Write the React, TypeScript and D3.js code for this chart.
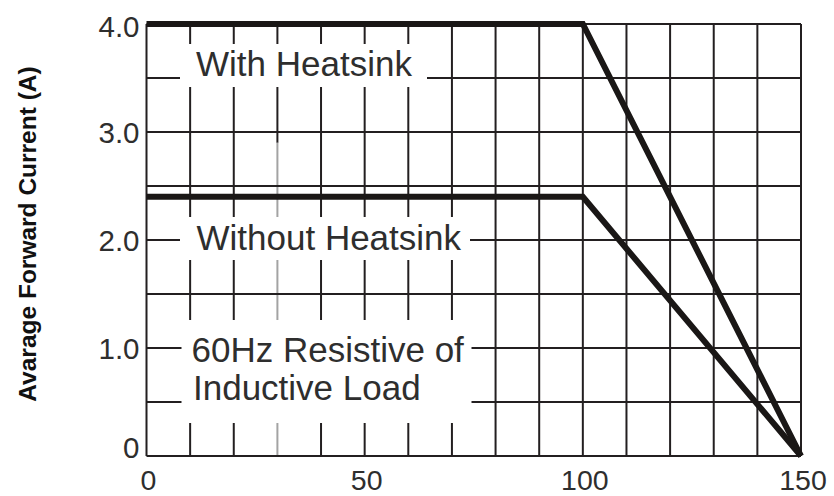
import React from "react";
import * as d3 from "d3";

// ---- data ----
const withHeatsinkTemp = [0, 100, 150];
const withHeatsinkCurrent = [4.0, 4.0, 0];
const withoutHeatsinkTemp = [0, 100, 150];
const withoutHeatsinkCurrent = [2.4, 2.4, 0];
const xTickValues = [0, 50, 100, 150];
const xTickLabels = ["0", "50", "100", "150"];
const yTickValues = [0, 1, 2, 3, 4];
const yTickLabels = ["0", "1.0", "2.0", "3.0", "4.0"];
const yAxisTitle = "Avarage Forward Current (A)";

const W = 834;
const H = 496;
const margin = { left: 146.5, right: 33, top: 24, bottom: 40 };

export default function App() {
  const x = d3.scaleLinear().domain([0, 150]).range([margin.left, W - margin.right]);
  const y = d3.scaleLinear().domain([0, 4]).range([H - margin.bottom, margin.top]);

  const xGrid = d3.range(0, 151, 10);
  const yGrid = d3.range(0, 4.001, 0.5);

  const line = d3
    .line<[number, number]>()
    .x((d) => x(d[0]))
    .y((d) => y(d[1]));

  const withPts = withHeatsinkTemp.map((t, i) => [t, withHeatsinkCurrent[i]] as [number, number]);
  const withoutPts = withoutHeatsinkTemp.map((t, i) => [t, withoutHeatsinkCurrent[i]] as [number, number]);

  const gridColor = "#231f20";
  const textColor = "#2e2e2e";
  const font = "'Liberation Sans', Arial, sans-serif";

  return (
    <svg
      width={W}
      height={H}
      style={{ position: "absolute", left: 0, top: 0, background: "#fff" }}
      fontFamily={font}
    >
      <rect x={0} y={0} width={W} height={H} fill="#fff" />
      {/* grid */}
      <g stroke={gridColor} strokeWidth={2}>
        {xGrid.map((v) =>
          v === 30 ? (
            <g key={"vx" + v}>
              <line x1={x(v)} x2={x(v)} y1={y(4)} y2={y(2.9)} />
              <line x1={x(v)} x2={x(v)} y1={y(2.9)} y2={y(0)} stroke="#a3a3a3" />
            </g>
          ) : (
            <line key={"vx" + v} x1={x(v)} x2={x(v)} y1={y(4)} y2={y(0)} />
          )
        )}
        {yGrid.map((v) => (
          <line key={"hy" + v} x1={x(0)} x2={x(150)} y1={y(v)} y2={y(v)} />
        ))}
      </g>

      {/* label backgrounds */}
      <g fill="#fff">
        <rect x={180} y={44} width={247} height={43} />
        <rect x={180} y={217} width={290} height={43} />
        <rect x={181.5} y={320} width={290} height={103} />
      </g>

      {/* curves */}
      <path d={line(withPts) || ""} fill="none" stroke="#1a1716" strokeWidth={6} strokeLinejoin="miter" />
      <path d={line(withoutPts) || ""} fill="none" stroke="#1a1716" strokeWidth={6} strokeLinejoin="miter" />

      {/* annotations */}
      <g fill={textColor} fontSize={35}>
        <text x={196} y={76}>With Heatsink</text>
        <text x={196.5} y={250}>Without Heatsink</text>
        <text x={191.5} y={361.5}>60Hz Resistive of</text>
        <text x={193} y={400}>Inductive Load</text>
      </g>

      {/* y ticks */}
      <g fill={textColor} fontSize={29.5} textAnchor="end">
        {yTickValues.map((v, i) => (
          <text key={"yt" + v} x={139.5} y={Math.min(Math.max(y(v) + 11, 37), 458)}>
            {yTickLabels[i]}
          </text>
        ))}
      </g>

      {/* x ticks */}
      <g fill={textColor} fontSize={28.5} textAnchor="middle">
        {xTickValues.map((v, i) => (
          <text key={"xt" + v} x={x(v) + 2} y={490}>
            {xTickLabels[i]}
          </text>
        ))}
      </g>

      {/* y axis title */}
      <text
        transform={`translate(36,234) rotate(-90)`}
        textAnchor="middle"
        fontWeight="bold"
        fontSize={24.5}
        fill="#111"
      >
        {yAxisTitle}
      </text>
    </svg>
  );
}
